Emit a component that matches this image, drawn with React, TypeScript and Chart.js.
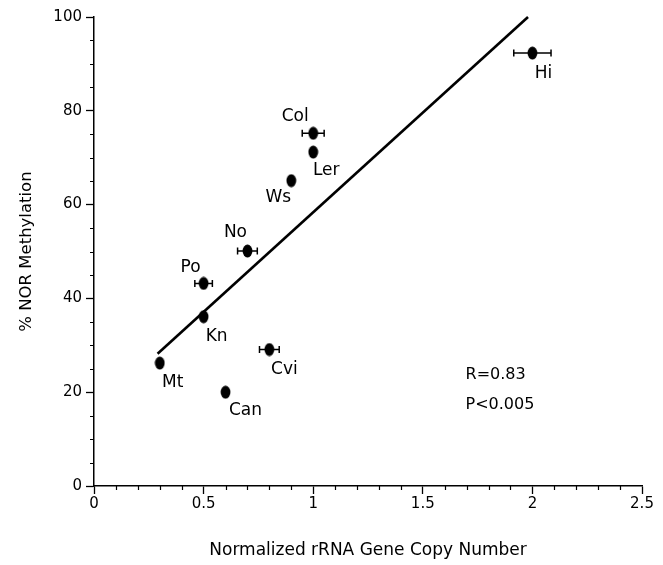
import React, { useEffect, useRef } from 'react';
import { Chart, registerables } from 'chart.js';

Chart.register(...registerables);

// ---- data ----
const names = ['Mt', 'Kn', 'Po', 'No', 'Can', 'Cvi', 'Ws', 'Ler', 'Col', 'Hi'];
const copyNumber = [0.3, 0.5, 0.5, 0.7, 0.6, 0.8, 0.9, 1.0, 1.0, 2.0];
const methylation = [26.2, 36.1, 43.2, 50.1, 20.0, 29.1, 65.1, 71.2, 75.2, 92.3];
const copyError = [0, 0, 0.04, 0.045, 0, 0.045, 0, 0, 0.05, 0.085];
const fitX = [0.29, 1.98];
const fitY = [28.2, 100];
const statsLines = ['R=0.83', 'P<0.005'];
const statsX = 1.695;
const statsY = [23.7, 17.3];
const xTitle = 'Normalized rRNA Gene Copy Number';
const yTitle = '% NOR Methylation';

// ---- label placement (pixels, relative to the point) ----
const labelOffsets: [number, number][] = [
  [13, 19], [13, 20], [-13, -16], [-12, -18], [20, 18],
  [15, 20], [-13, 17], [13, 19], [-18, -17], [11, 20],
];

const FONT = 'DejaVu Sans';

function makeMarker(): HTMLCanvasElement {
  const c = document.createElement('canvas');
  c.width = 11;
  c.height = 14;
  const g = c.getContext('2d')!;
  g.fillStyle = '#000';
  g.beginPath();
  g.ellipse(5.5, 7, 4.9, 6.4, 0, 0, Math.PI * 2);
  g.fill();
  return c;
}

const overlayPlugin = {
  id: 'overlay',
  beforeDatasetsDraw(chart: any) {
    const { ctx, scales } = chart;
    const xs = scales.x;
    const ys = scales.y;
    ctx.save();
    ctx.strokeStyle = '#000';
    ctx.lineWidth = 1.5;
    copyError.forEach((err, i) => {
      if (!err) return;
      const x1 = xs.getPixelForValue(copyNumber[i] - err);
      const x2 = xs.getPixelForValue(copyNumber[i] + err);
      const y = ys.getPixelForValue(methylation[i]);
      ctx.beginPath();
      ctx.moveTo(x1, y);
      ctx.lineTo(x2, y);
      ctx.moveTo(x1, y - 3.5);
      ctx.lineTo(x1, y + 3.5);
      ctx.moveTo(x2, y - 3.5);
      ctx.lineTo(x2, y + 3.5);
      ctx.stroke();
    });
    ctx.restore();
  },
  afterDraw(chart: any) {
    const { ctx, scales, chartArea } = chart;
    const xs = scales.x;
    const ys = scales.y;
    ctx.save();
    // minor ticks
    ctx.strokeStyle = '#000';
    ctx.lineWidth = 1.2;
    ctx.beginPath();
    for (let k = 0; k <= 25; k++) {
      if (k % 5 === 0) continue;
      const px = Math.round(xs.getPixelForValue(k / 10)) + 0.5;
      ctx.moveTo(px, chartArea.bottom);
      ctx.lineTo(px, chartArea.bottom + 4);
    }
    for (let k = 0; k <= 20; k++) {
      if (k % 4 === 0) continue;
      const py = Math.round(ys.getPixelForValue(k * 5)) + 0.5;
      ctx.moveTo(chartArea.left - 4, py);
      ctx.lineTo(chartArea.left, py);
    }
    ctx.stroke();

    // point labels
    ctx.fillStyle = '#000';
    ctx.font = `17px "${FONT}"`;
    ctx.textAlign = 'center';
    ctx.textBaseline = 'middle';
    names.forEach((n, i) => {
      const px = xs.getPixelForValue(copyNumber[i]) + labelOffsets[i][0];
      const py = ys.getPixelForValue(methylation[i]) + labelOffsets[i][1];
      ctx.fillText(n, px, py);
    });

    // statistics
    ctx.font = `16px "${FONT}"`;
    ctx.textAlign = 'left';
    statsLines.forEach((t, i) => {
      ctx.fillText(t, xs.getPixelForValue(statsX), ys.getPixelForValue(statsY[i]));
    });
    ctx.restore();
  },
};

export default function App() {
  const ref = useRef<HTMLCanvasElement>(null);

  useEffect(() => {
    const marker = makeMarker();
    const chart = new Chart(ref.current!, {
      type: 'scatter',
      data: {
        datasets: [
          {
            label: 'Accessions',
            data: copyNumber.map((x, i) => ({ x, y: methylation[i] })),
            pointStyle: marker as any,
            pointRadius: 6,
            pointHoverRadius: 6,
            backgroundColor: '#000',
            borderColor: '#000',
          },
          {
            type: 'line' as any,
            label: 'Fit',
            data: fitX.map((x, i) => ({ x, y: fitY[i] })),
            borderColor: '#000',
            borderWidth: 2.6,
            pointRadius: 0,
            showLine: true,
            fill: false,
            clip: false as any,
          },
        ],
      },
      options: {
        responsive: false,
        animation: false,
        devicePixelRatio: 1,
        layout: { padding: { top: 17, right: 21, left: 0, bottom: 0 } },
        plugins: {
          legend: { display: false },
          tooltip: { enabled: false },
        },
        scales: {
          x: {
            type: 'linear',
            min: 0,
            max: 2.5,
            afterFit: (s: any) => { s.height = 79; },
            ticks: {
              stepSize: 0.5,
              color: '#000',
              font: { family: FONT, size: 15 },
              padding: 1,
              maxRotation: 0,
              callback: (v: any) => String(Number(v)),
            },
            grid: {
              drawOnChartArea: false,
              drawTicks: true,
              tickLength: 8,
              tickColor: '#000',
              tickWidth: 1.3,
            },
            border: { display: true, color: '#000', width: 1.5 },
            title: {
              display: true,
              text: xTitle,
              color: '#000',
              font: { family: FONT, size: 17 },
              padding: { top: 0, bottom: 4 },
            },
          },
          y: {
            type: 'linear',
            min: 0,
            max: 100,
            afterFit: (s: any) => { s.width = 94; },
            ticks: {
              stepSize: 20,
              color: '#000',
              font: { family: FONT, size: 15 },
              padding: 4,
              callback: (v: any) => String(Number(v)),
            },
            grid: {
              drawOnChartArea: false,
              drawTicks: true,
              tickLength: 8,
              tickColor: '#000',
              tickWidth: 1.3,
            },
            border: { display: true, color: '#000', width: 1.5 },
            title: {
              display: true,
              text: yTitle,
              color: '#000',
              font: { family: FONT, size: 16.5 },
              padding: { top: 17, bottom: 0 },
            },
          },
        },
      },
      plugins: [overlayPlugin],
    });
    return () => chart.destroy();
  }, []);

  return (
    <div style={{ position: 'fixed', left: 0, top: 0, width: 663, height: 565, background: '#fff' }}>
      <canvas ref={ref} width={663} height={565} />
    </div>
  );
}
